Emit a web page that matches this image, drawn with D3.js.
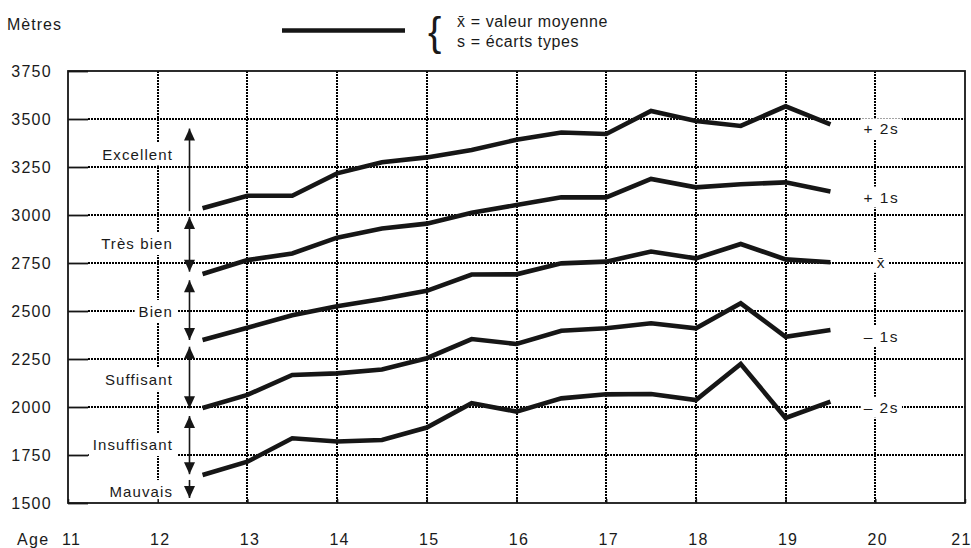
<!DOCTYPE html>
<html><head><meta charset="utf-8">
<script src="https://cdn.jsdelivr.net/npm/d3@7/dist/d3.min.js"></script>
<style>
html,body{margin:0;padding:0;background:#fff;}
svg{display:block;}
text{font-family:"Liberation Sans",Arial,Helvetica,sans-serif;fill:#1a1a1a;}
</style></head>
<body>
<svg id="chart" width="971" height="548"></svg>
<script>
// ---- data ----
const ages = [12.5,13,13.5,14,14.5,15,15.5,16,16.5,17,17.5,18,18.5,19,19.5];
const plus2s  = [3035,3100,3100,3217,3275,3300,3338,3392,3430,3422,3542,3490,3464,3566,3472];
const plus1s  = [2693,2765,2800,2882,2930,2955,3012,3052,3092,3092,3188,3144,3160,3170,3122];
const mean    = [2349,2413,2478,2525,2562,2605,2690,2691,2748,2757,2810,2774,2849,2769,2754];
const minus1s = [1995,2063,2167,2175,2195,2254,2354,2328,2397,2410,2436,2410,2540,2366,2401];
const minus2s = [1646,1715,1837,1820,1828,1893,2020,1976,2045,2066,2068,2036,2224,1943,2028];
const seriesNames = ["+ 2s","+ 1s","x\u0304","– 1s","– 2s"];
const seriesLabelV = [3420,3065,2725,2340,1970];
const xTicks = [11,12,13,14,15,16,17,18,19,20,21];
const yTicks = [1500,1750,2000,2250,2500,2750,3000,3250,3500,3750];
// rating bands: label, label baseline value, arrow from, arrow to
const bandNames  = ["Excellent","Très bien","Bien","Suffisant","Insuffisant","Mauvais"];
const bandLabelV = [3289,2823,2469,2115,1776,1531];
const bandFrom   = [3020,2990,2660,2314,1953,1620];
const bandTo     = [3450,2705,2349,1993,1650,1526];
const bandHeadFrom = [false,true,true,true,true,false];
const bandHeadTo   = [true,true,true,true,true,true];

// ---- layout ----
const svg = d3.select("#chart");
const x = d3.scaleLinear().domain([11,21]).range([68,965]);
const y = d3.scaleLinear().domain([1500,3750]).range([503,71]);
const ink = "#161616";
const arrowX = 189.5, bandLabelRight = 173;

// gridlines
const grid = svg.append("g").attr("shape-rendering","crispEdges");
grid.selectAll("line.h").data(yTicks.filter(v=>v>1500 && v<3750)).join("line").attr("class","h")
  .attr("x1", x(11)+20).attr("x2", x(21)).attr("y1", d=>Math.round(y(d))).attr("y2", d=>Math.round(y(d)))
  .attr("stroke", "#000").attr("stroke-width", 2).attr("stroke-dasharray","1.5,1.5");
grid.selectAll("line.v").data(xTicks.filter(v=>v>11 && v<21)).join("line").attr("class","v")
  .attr("x1", d=>Math.round(x(d))).attr("x2", d=>Math.round(x(d))).attr("y1", y(3750)).attr("y2", y(1500))
  .attr("stroke", "#000").attr("stroke-width", 2).attr("stroke-dasharray","1.5,1.5");

// helper: text with white background
function labelWithBg(g, tx, ty, str, opts){
  const t = g.append("text").attr("x",tx).attr("y",ty).text(str)
    .attr("font-size",opts.size||15).attr("letter-spacing",opts.ls||1.2)
    .attr("text-anchor",opts.anchor||"middle");
  const b = t.node().getBBox();
  const p = opts.pad||3;
  g.insert("rect","text").attr("x",b.x-p).attr("y",b.y-p+1).attr("width",b.width+2*p).attr("height",b.height+2*p-2).attr("fill","#fff");
  return t;
}

// right labels
const rl = svg.append("g");
seriesNames.forEach((n,i)=>{
  const g = rl.append("g");
  labelWithBg(g, x(20)+6, y(seriesLabelV[i]), n, {size:15.5, ls:1.5, anchor:"middle", pad:3});
});

// band labels
const bl = svg.append("g");
bandNames.forEach((n,i)=>{
  const g = bl.append("g");
  labelWithBg(g, bandLabelRight, y(bandLabelV[i]), n, {size:15, ls:1.1, anchor:"end", pad:4});
});

// y axis
const yAxis = d3.axisLeft(y).tickValues(yTicks).tickSize(-20).tickPadding(16).tickFormat(d3.format("d"));
const gy = svg.append("g").attr("transform",`translate(${x(11)},0)`).call(yAxis);
gy.select(".domain").remove();
gy.selectAll(".tick line").attr("stroke", ink).attr("stroke-width",1.8);
gy.selectAll(".tick text").attr("font-size",16).attr("letter-spacing",1.3)
  .attr("font-family","Liberation Sans, Arial, sans-serif").attr("fill",ink);

// x axis
const xAxis = d3.axisBottom(x).tickValues(xTicks).tickSize(-4).tickPadding(0).tickFormat(d3.format("d"));
const gx = svg.append("g").attr("transform",`translate(0,${y(1500)})`).call(xAxis);
gx.select(".domain").remove();
gx.selectAll(".tick line").attr("stroke", ink).attr("stroke-width",1.5);
gx.selectAll(".tick text").attr("font-size",16).attr("letter-spacing",1.3)
  .attr("font-family","Liberation Sans, Arial, sans-serif").attr("fill",ink)
  .attr("dy",0).attr("y",42).attr("dx",d=>d===21?-4:(d===11?3:2));

// frame
svg.append("rect").attr("x",x(11)).attr("y",y(3750)).attr("width",x(21)-x(11)).attr("height",y(1500)-y(3750))
  .attr("fill","none").attr("stroke",ink).attr("stroke-width",1.8);

// series lines
const allSeries = [plus2s, plus1s, mean, minus1s, minus2s];
const line = d3.line().x((d,i)=>x(ages[i])).y(d=>y(d));
svg.append("g").selectAll("path").data(allSeries).join("path")
  .attr("d", d=>line(d)).attr("fill","none").attr("stroke",ink)
  .attr("stroke-width",4.6).attr("stroke-linejoin","miter");

// band arrows
const ar = svg.append("g");
function head(yTip, dir){ // dir -1 = up, +1 = down
  const w=5.5, L=12;
  ar.append("path").attr("d",`M${arrowX},${yTip} L${arrowX-w},${yTip-dir*L} L${arrowX+w},${yTip-dir*L} Z`).attr("fill",ink);
}
bandNames.forEach((n,i)=>{
  const y1 = y(bandFrom[i]), y2 = y(bandTo[i]);
  ar.append("line").attr("x1",arrowX).attr("x2",arrowX).attr("y1",y1).attr("y2",y2)
    .attr("stroke",ink).attr("stroke-width",1.6);
  const dirTo = y2 < y1 ? -1 : 1;
  if (bandHeadTo[i]) head(y2, dirTo);
  if (bandHeadFrom[i]) head(y1, -dirTo);
});

// header
svg.append("text").attr("x",7).attr("y",30).text("Mètres").attr("font-size",16).attr("letter-spacing",1);
svg.append("text").attr("x",17).attr("y",545).text("Age").attr("font-size",16).attr("letter-spacing",1.3);
svg.append("line").attr("x1",282).attr("x2",405).attr("y1",30.5).attr("y2",30.5).attr("stroke",ink).attr("stroke-width",4.6);
svg.append("text").attr("x",428).attr("y",46).text("{").attr("font-size",40);
svg.append("text").attr("x",457).attr("y",27).text("x\u0304 = valeur moyenne").attr("font-size",16).attr("letter-spacing",0.6);
svg.append("text").attr("x",457).attr("y",47).text("s = écarts types").attr("font-size",16).attr("letter-spacing",0.6);
</script>
</body></html>
